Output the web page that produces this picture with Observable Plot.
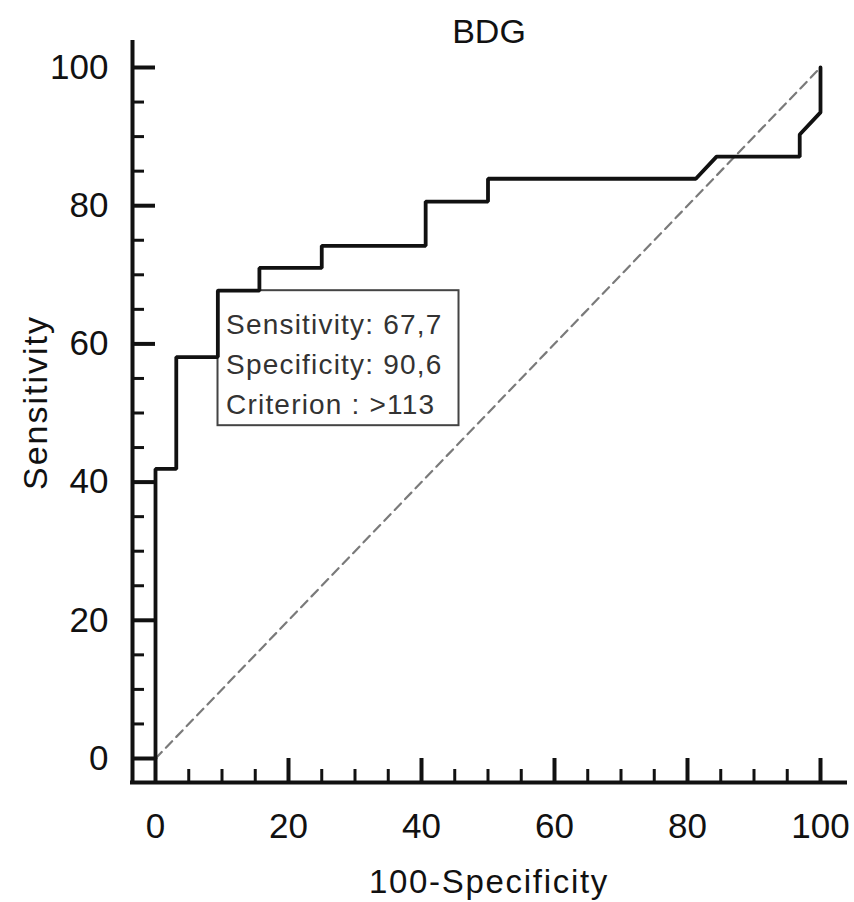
<!DOCTYPE html>
<html><head><meta charset="utf-8">
<script src="https://cdn.jsdelivr.net/npm/d3@7"></script>
<script src="https://cdn.jsdelivr.net/npm/@observablehq/plot@0.6"></script>
<style>html,body{margin:0;padding:0;background:#fff}</style>
</head><body><div id="chart"></div>
<script>
const title = "BDG";
const xLabel = "100-Specificity";
const yLabel = "Sensitivity";
// ROC curve: x = 100 - specificity, y = sensitivity
const fpr  = [0, 0, 3.125, 3.125, 9.375, 9.375, 15.625, 15.625, 25, 25, 40.625, 40.625, 50, 50, 81.25, 84.375, 96.875, 96.875, 100, 100];
const sens = [0, 41.9, 41.9, 58.1, 58.1, 67.7, 67.7, 71.0, 71.0, 74.2, 74.2, 80.6, 80.6, 83.9, 83.9, 87.1, 87.1, 90.3, 93.5, 100];
const chanceX = [0, 100];
const chanceY = [0, 100];
const majorTicks = [0, 20, 40, 60, 80, 100];
const minorTicks = [5, 10, 15, 25, 30, 35, 45, 50, 55, 65, 70, 75, 85, 90, 95];
const cutoffSensitivity = 67.7;
const cutoffSpecificity = 90.6;
const boxLines = ["Sensitivity: 67,7", "Specificity: 90,6", "Criterion : >113"];

const W = 854, H = 902, mL = 132, mR = 9, mT = 42, mB = 120;
const inL = 23, inR = 25, inT = 25, inB = 24;
const frameW = W - mL - mR, frameH = H - mT - mB;

const roc = fpr.map((x, i) => ({x, y: sens[i]}));
const chance = chanceX.map((x, i) => ({x, y: chanceY[i]}));
const cut = [{x: 100 - cutoffSpecificity, y: cutoffSensitivity, text: boxLines.join("\n")}];
const ink = "#111";

const plot = Plot.plot({
  width: W, height: H,
  marginLeft: mL, marginRight: mR, marginTop: mT, marginBottom: mB,
  x: {domain: [0, 100], insetLeft: inL, insetRight: inR},
  y: {domain: [0, 100], insetTop: inT, insetBottom: inB},
  style: {fontFamily: "'Liberation Sans', Arial, sans-serif", fontSize: "35px", color: ink, background: "#fff"},
  marks: [
    Plot.line(chance, {x: "x", y: "y", stroke: "#7a7a7a", strokeWidth: 2.2, strokeDasharray: "9,6"}),
    Plot.rect(cut, {x1: "x", x2: "x", y1: "y", y2: "y", insetRight: -241, insetBottom: -135, fill: "#fff", stroke: "#444", strokeWidth: 2}),
    Plot.text(cut, {x: "x", y: "y", text: "text", textAnchor: "start", lineAnchor: "top", dx: 8, dy: 15, fontSize: 28, lineHeight: 1.43, fill: "#333"}),
    Plot.line(roc, {x: "x", y: "y", stroke: ink, strokeWidth: 3.8, strokeLinejoin: "miter"}),
    Plot.ruleX([0], {dx: -inL, stroke: ink, strokeWidth: 4, strokeLinecap: "square"}),
    Plot.ruleY([0], {dy: inB, stroke: ink, strokeWidth: 4, strokeLinecap: "square"}),
    Plot.tickY(majorTicks, {y: d => d, insetRight: frameW - 23, stroke: ink, strokeWidth: 4}),
    Plot.tickY(minorTicks, {y: d => d, insetRight: frameW - 12, stroke: ink, strokeWidth: 3}),
    Plot.tickX(majorTicks, {x: d => d, insetTop: frameH - 24, stroke: ink, strokeWidth: 4}),
    Plot.tickX(minorTicks, {x: d => d, insetTop: frameH - 13, stroke: ink, strokeWidth: 3}),
    Plot.axisY(majorTicks, {tickSize: 0, tickPadding: 24, label: null, fontSize: 35}),
    Plot.axisX(majorTicks, {tickSize: 0, tickPadding: 31, label: null, fontSize: 35}),
    Plot.text([title], {frameAnchor: "top", lineAnchor: "top", dy: -24, fontSize: 34}),
    Plot.text([xLabel], {frameAnchor: "bottom", lineAnchor: "bottom", dy: 110, fontSize: 33}),
    Plot.text([yLabel], {frameAnchor: "left", textAnchor: "middle", lineAnchor: "middle", dx: -96, dy: -10, rotate: -90, fontSize: 34})
  ]
});

plot.querySelectorAll("text").forEach(t => {
  const s = t.textContent;
  if (s === yLabel) t.style.letterSpacing = "2px";
  else if (s === xLabel) t.style.letterSpacing = "1.7px";
  else if (s.startsWith("Sensitivity:")) t.style.letterSpacing = "1.2px";
});
document.getElementById("chart").appendChild(plot);
</script>
</body></html>
